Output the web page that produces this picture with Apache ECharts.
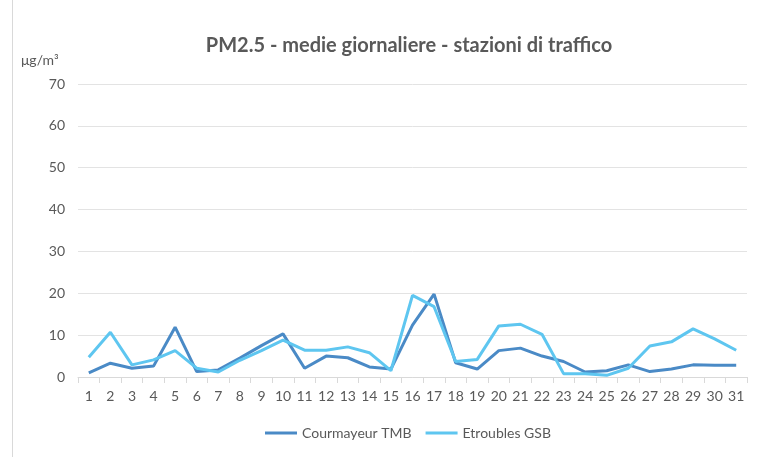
<!DOCTYPE html>
<html>
<head>
<meta charset="utf-8">
<script src="https://cdn.jsdelivr.net/npm/echarts@6/dist/echarts.min.js"></script>
<style>
  html, body { margin: 0; padding: 0; background: #fff; }
  #chart { width: 760px; height: 457px; }
</style>
</head>
<body>
<div id="chart"></div>
<script>
const days = Array.from({ length: 31 }, (_, i) => String(i + 1))
const courmayeur = [1.0, 3.3, 2.1, 2.6, 11.9, 1.3, 1.7, 4.5, 7.5, 10.3,
  2.1, 5.0, 4.6, 2.4, 1.9, 12.4, 19.8, 3.4, 1.9, 6.3,
  6.9, 5.0, 3.7, 1.2, 1.5, 2.9, 1.3, 1.9, 2.9, 2.8, 2.8]
const etroubles = [4.7, 10.7, 2.9, 4.1, 6.3, 2.1, 1.2, 4.0, 6.3, 8.8,
  6.4, 6.4, 7.2, 5.8, 1.5, 19.5, 16.8, 3.7, 4.2, 12.2,
  12.6, 10.2, 0.8, 0.8, 0.4, 2.1, 7.4, 8.4, 11.5, 9.1, 6.4]

const font = 'Lato, "Open Sans", sans-serif'
const grey = '#595959'

const myChart = echarts.init(document.getElementById('chart'))
myChart.setOption({
  animation: false,
  title: {
    text: 'PM2.5 - medie giornaliere - stazioni di traffico',
    left: 404,
    top: 31,
    textAlign: 'center',
    textStyle: { fontFamily: font, fontSize: 20, fontWeight: 'bold', color: grey },
  },
  graphic: [
    { type: 'line', shape: { x1: 12.5, y1: 0, x2: 12.5, y2: 457 }, style: { stroke: '#d9d9d9', lineWidth: 1 } },
    { type: 'text', left: 21, top: 53, style: { text: 'μg/m³', fontFamily: font, fontSize: 14, fill: grey } },
  ],
  legend: {
    bottom: 12,
    left: 260,
    itemWidth: 32,
    itemGap: 14,
    icon: 'rect',
    itemHeight: 3,
    textStyle: { fontFamily: font, fontSize: 14, color: grey },
    data: ['Courmayeur TMB', 'Etroubles GSB'],
  },
  grid: { left: 78, right: 13, top: 84, bottom: 80 },
  xAxis: {
    type: 'category',
    data: days,
    boundaryGap: true,
    axisLine: { lineStyle: { color: '#d9d9d9' } },
    axisTick: { show: true, alignWithLabel: false, length: 6, lineStyle: { color: '#d9d9d9' } },
    axisLabel: { fontFamily: font, fontSize: 14, color: grey, margin: 12, interval: 0 },
  },
  yAxis: {
    type: 'value',
    min: 0,
    max: 70,
    interval: 10,
    axisLine: { show: false },
    axisTick: { show: false },
    axisLabel: { fontFamily: font, fontSize: 14, color: grey, margin: 13 },
    splitLine: { lineStyle: { color: '#e3e3e3' } },
  },
  series: [
    {
      name: 'Courmayeur TMB',
      type: 'line',
      data: courmayeur,
      showSymbol: false,
      symbol: 'none',
      lineStyle: { width: 3, color: '#4a8ac6' },
      itemStyle: { color: '#4a8ac6' },
    },
    {
      name: 'Etroubles GSB',
      type: 'line',
      data: etroubles,
      showSymbol: false,
      symbol: 'none',
      lineStyle: { width: 3, color: '#5ec6f0' },
      itemStyle: { color: '#5ec6f0' },
    },
  ],
})
</script>
</body>
</html>
